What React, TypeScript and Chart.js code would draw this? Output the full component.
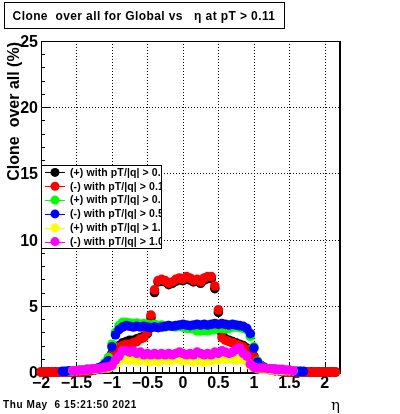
import React, { useEffect, useRef } from "react";
import { Chart, registerables } from "chart.js";

Chart.register(...registerables);

// eta bin centres
const ETA = [
  -2.0, -1.95, -1.9, -1.85, -1.8, -1.75, -1.7, -1.65, -1.6, -1.55,
  -1.5, -1.45, -1.4, -1.35, -1.3, -1.25, -1.2, -1.15, -1.1, -1.05,
  -1.0, -0.95, -0.9, -0.85, -0.8, -0.75, -0.7, -0.65, -0.6, -0.55,
  -0.5, -0.45, -0.4, -0.35, -0.3, -0.25, -0.2, -0.15, -0.1, -0.05,
  0.0, 0.05, 0.1, 0.15, 0.2, 0.25, 0.3, 0.35, 0.4, 0.45,
  0.5, 0.55, 0.6, 0.65, 0.7, 0.75, 0.8, 0.85, 0.9, 0.95,
  1.0, 1.05, 1.1, 1.15, 1.2, 1.25, 1.3, 1.35, 1.4, 1.45,
  1.5, 1.55, 1.6, 1.65, 1.7, 1.75, 1.8, 1.85, 1.9, 1.95,
  2.0, 2.05, 2.1, 2.15,
];

const N = null;

// (+) with pT/|q| > 0.1
const POS_PT01 = [
  0, 0, 0, 0, 0, 0, 0, 0, 0, 0,
  0, 0, 0, 0.05, 0.1, 0.15, 0.25, 0.35, 0.6, 1.0,
  1.4, 1.8, 2.0, 2.2, 2.3, 2.4, 2.4, 2.5, 2.6, 2.7,
  2.9, 4.1, 6.0, 6.8, 6.85, 6.8, 6.6, 6.7, 6.85, 6.95,
  6.9, 7.05, 6.95, 6.8, 6.9, 6.7, 6.95, 7.05, 7.05, 6.3,
  4.5, 2.9, 2.5, 2.4, 2.3, 2.2, 2.1, 2.0, 1.8, 1.5,
  1.2, 0.8, 0.5, 0.35, 0.25, 0.15, 0.1, 0.1, 0.05, 0,
  0, 0, 0, 0, 0, 0, 0, 0, 0, 0,
  0, 0, 0, 0,
];

// (-) with pT/|q| > 0.1
const NEG_PT01 = [
  0, 0, 0, 0, 0, 0, 0, 0, 0, 0,
  0, 0, 0, 0.05, 0.1, 0.15, 0.2, 0.3, 0.5, 0.9,
  1.3, 1.6, 1.9, 2.0, 2.1, 2.1, 2.2, 2.3, 2.5, 2.6,
  3.0, 4.3, 6.2, 6.9, 7.0, 6.9, 6.7, 6.8, 7.0, 7.1,
  7.0, 7.2, 7.1, 6.9, 7.0, 6.8, 7.1, 7.2, 7.2, 6.5,
  4.7, 2.6, 2.4, 2.3, 2.2, 2.1, 2.0, 1.9, 1.7, 1.4,
  1.15, 0.7, 0.45, 0.3, 0.2, 0.15, 0.1, 0.1, 0.05, 0,
  0, 0, 0, 0, 0, 0, 0, 0, 0, 0,
  0, 0, 0, 0,
];

// (+) with pT/|q| > 0.5
const POS_PT05 = [
  N, N, N, N, N, N, N, 0.05, 0.05, 0.1,
  0.1, 0.1, 0.15, 0.15, 0.2, 0.2, 0.25, 0.35, 0.7, 1.1,
  2.1, 3.0, 3.5, 3.75, 3.75, 3.7, 3.65, 3.7, 3.6, 3.65,
  3.6, 3.55, 3.6, 3.5, 3.55, 3.4, 3.5, 3.45, 3.4, 3.5,
  3.4, 3.3, 3.3, 3.25, 3.1, 3.1, 3.15, 3.1, 3.2, 3.2,
  3.3, 3.3, 3.25, 3.3, 3.4, 3.4, 3.35, 3.3, 3.2, 2.7,
  1.9, 0.8, 0.45, 0.3, 0.25, 0.2, 0.2, 0.15, 0.15, 0.1,
  0.1, 0.1, 0.05, 0.05, N, N, N, N, N, N,
  N, N, N, N,
];

// (-) with pT/|q| > 0.5
const NEG_PT05 = [
  N, N, N, N, N, N, 0.05, 0.05, 0.1, 0.1,
  0.1, 0.15, 0.15, 0.2, 0.2, 0.25, 0.3, 0.4, 0.6, 0.85,
  1.9, 2.8, 3.2, 3.4, 3.5, 3.45, 3.4, 3.45, 3.4, 3.45,
  3.4, 3.35, 3.4, 3.35, 3.4, 3.45, 3.5, 3.45, 3.5, 3.55,
  3.6, 3.55, 3.5, 3.55, 3.6, 3.55, 3.6, 3.55, 3.6, 3.65,
  3.6, 3.65, 3.6, 3.55, 3.6, 3.55, 3.5, 3.45, 3.3, 2.9,
  1.8, 0.75, 0.4, 0.3, 0.25, 0.2, 0.2, 0.15, 0.15, 0.1,
  0.1, 0.1, 0.05, 0.05, 0.05, N, N, N, N, N,
  N, N, N, N,
];

// (+) with pT/|q| > 1.0
const POS_PT10 = [
  N, N, N, N, N, N, N, N, N, 0.1,
  0.1, 0.15, 0.15, 0.2, 0.2, 0.2, 0.25, 0.25, 0.3, 0.3,
  0.4, 0.6, 0.8, 0.95, 1.0, 0.9, 1.0, 0.85, 0.9, 1.0,
  0.8, 0.85, 0.95, 0.8, 0.9, 1.0, 0.85, 0.9, 1.0, 0.95,
  0.85, 0.9, 1.0, 0.8, 0.9, 0.85, 0.75, 0.9, 0.85, 1.0,
  0.9, 1.0, 0.95, 1.05, 1.0, 0.9, 1.0, 0.95, 0.8, 0.5,
  0.35, 0.25, 0.2, 0.2, 0.2, 0.15, 0.15, 0.15, 0.1, 0.1,
  0.1, 0.1, N, N, N, N, N, N, N, N,
  N, N, N, N,
];

// (-) with pT/|q| > 1.0
const NEG_PT10 = [
  N, N, N, N, N, N, N, N, N, 0.1,
  0.1, 0.15, 0.15, 0.2, 0.2, 0.25, 0.25, 0.3, 0.35, 0.4,
  0.5, 0.9, 1.2, 1.6, 1.6, 1.5, 1.6, 1.4, 1.5, 1.3,
  1.4, 1.3, 1.4, 1.3, 1.4, 1.3, 1.4, 1.3, 1.4, 1.5,
  1.4, 1.3, 1.4, 1.3, 1.5, 1.4, 1.3, 1.4, 1.3, 1.5,
  1.4, 1.6, 1.5, 1.4, 1.5, 1.7, 1.8, 1.4, 1.2, 0.6,
  0.35, 0.3, 0.3, 0.3, 0.25, 0.25, 0.2, 0.2, 0.2, 0.15,
  0.15, 0.1, N, N, N, N, N, N, N, N,
  N, N, N, N,
];

const SERIES_VALUES = [POS_PT01, NEG_PT01, POS_PT05, NEG_PT05, POS_PT10, NEG_PT10];
const SERIES_LABELS = [
  "(+) with pT/|q| > 0.1",
  "(-) with pT/|q| > 0.1",
  "(+) with pT/|q| > 0.5",
  "(-) with pT/|q| > 0.5",
  "(+) with pT/|q| > 1.0",
  "(-) with pT/|q| > 1.0",
];
const SERIES_COLORS = ["#000000", "#ff0000", "#00ff00", "#0000ff", "#ffff00", "#ff00ff"];

const X_TICKS = [-2, -1.5, -1, -0.5, 0, 0.5, 1, 1.5, 2];
const X_TICK_LABELS = ["\u22122", "\u22121.5", "\u22121", "\u22120.5", "0", "0.5", "1", "1.5", "2"];
const Y_TICKS = [0, 5, 10, 15, 20, 25];
const Y_TICK_LABELS = ["0", "5", "10", "15", "20", "25"];

const TITLE = "Clone  over all for Global vs   \u03b7 at pT > 0.11";
const Y_TITLE = "Clone  over all (%)";
const X_TITLE = "\u03b7";
const DATE_TEXT = "Thu May  6 15:21:50 2021";

const FONT = "'Liberation Sans', Arial, sans-serif";

const rootStyle = {
  id: "rootStyle",
  beforeDatasetsDraw(chart: any) {
    const { ctx, chartArea, scales } = chart;
    const { left, right, top, bottom } = chartArea;
    const xs = scales.x;
    const ys = scales.y;
    ctx.save();
    // grid
    ctx.strokeStyle = "#000";
    ctx.lineWidth = 1;
    ctx.setLineDash([1, 2]);
    X_TICKS.forEach((v) => {
      const px = Math.round(xs.getPixelForValue(v)) + 0.5;
      if (px <= left + 1 || px >= right - 1) return;
      ctx.beginPath();
      ctx.moveTo(px, top);
      ctx.lineTo(px, bottom);
      ctx.stroke();
    });
    Y_TICKS.forEach((v) => {
      const py = Math.round(ys.getPixelForValue(v)) + 0.5;
      if (py <= top + 1 || py >= bottom - 1) return;
      ctx.beginPath();
      ctx.moveTo(left, py);
      ctx.lineTo(right, py);
      ctx.stroke();
    });
    ctx.setLineDash([]);
    // frame
    ctx.strokeRect(left + 0.5, top + 0.5, right - left, bottom - top);
    ctx.beginPath();
    ctx.moveTo(right + 1.5, top);
    ctx.lineTo(right + 1.5, bottom + 2);
    ctx.moveTo(left, bottom + 1.5);
    ctx.lineTo(right + 2, bottom + 1.5);
    ctx.stroke();
    // x ticks
    for (let i = -20; i <= 22; i++) {
      const v = i / 10;
      const px = Math.round(xs.getPixelForValue(v)) + 0.5;
      const len = i % 5 === 0 ? 10 : 5;
      ctx.beginPath();
      ctx.moveTo(px, bottom);
      ctx.lineTo(px, bottom - len);
      ctx.stroke();
    }
    // y ticks
    for (let i = 0; i <= 25; i++) {
      const py = Math.round(ys.getPixelForValue(i)) + 0.5;
      const len = i % 5 === 0 ? 9 : 4;
      ctx.beginPath();
      ctx.moveTo(left, py);
      ctx.lineTo(left + len, py);
      ctx.stroke();
    }
    // tick labels
    ctx.fillStyle = "#000";
    ctx.font = `bold 16px ${FONT}`;
    ctx.textAlign = "center";
    ctx.textBaseline = "alphabetic";
    X_TICKS.forEach((v, i) => {
      ctx.fillText(X_TICK_LABELS[i], xs.getPixelForValue(v), 388);
    });
    ctx.textAlign = "right";
    Y_TICKS.forEach((v, i) => {
      ctx.fillText(Y_TICK_LABELS[i], 38, ys.getPixelForValue(v) + 6);
    });
    ctx.restore();
  },
  afterDraw(chart: any) {
    const { ctx, chartArea } = chart;
    const { left } = chartArea;
    ctx.save();
    // legend
    const bx = left + 0.5, by = 165.5, bw = 120, bh = 83;
    ctx.fillStyle = "#fff";
    ctx.fillRect(bx, by, bw, bh);
    ctx.strokeStyle = "#000";
    ctx.lineWidth = 1;
    ctx.strokeRect(bx, by, bw, bh);
    ctx.save();
    ctx.beginPath();
    ctx.rect(bx, by, bw, bh);
    ctx.clip();
    const rowH = bh / SERIES_LABELS.length;
    SERIES_LABELS.forEach((label, i) => {
      const cy = by + rowH * (i + 0.5);
      ctx.strokeStyle = SERIES_COLORS[i];
      ctx.beginPath();
      ctx.moveTo(45, Math.round(cy) + 0.5);
      ctx.lineTo(65, Math.round(cy) + 0.5);
      ctx.stroke();
      ctx.fillStyle = SERIES_COLORS[i];
      ctx.beginPath();
      ctx.arc(55, cy, 4.5, 0, Math.PI * 2);
      ctx.fill();
      ctx.fillStyle = "#000";
      ctx.font = `bold 10.5px ${FONT}`;
      ctx.textAlign = "left";
      ctx.textBaseline = "middle";
      (ctx as any).letterSpacing = "0.1px";
      ctx.fillText(label, 70, cy + 0.5);
    });
    ctx.restore();
    (ctx as any).letterSpacing = "0px";
    // title box
    ctx.fillStyle = "#fff";
    ctx.fillRect(4.5, 2.5, 280, 26);
    ctx.strokeStyle = "#000";
    ctx.strokeRect(4.5, 2.5, 280, 26);
    ctx.fillStyle = "#000";
    ctx.font = `bold 12px ${FONT}`;
    ctx.textAlign = "center";
    ctx.textBaseline = "middle";
    (ctx as any).letterSpacing = "0.4px";
    ctx.fillText(TITLE, 144, 16.5);
    (ctx as any).letterSpacing = "0px";
    // y title
    ctx.save();
    ctx.translate(15, 42);
    ctx.rotate(-Math.PI / 2);
    ctx.font = `bold 16px ${FONT}`;
    ctx.textAlign = "right";
    ctx.textBaseline = "middle";
    ctx.fillText(Y_TITLE, 0, 0);
    ctx.restore();
    // x title
    ctx.font = `15px 'DejaVu Serif', serif`;
    ctx.textAlign = "left";
    ctx.textBaseline = "alphabetic";
    ctx.fillText(X_TITLE, 331, 410);
    // date
    ctx.font = `bold 10px ${FONT}`;
    (ctx as any).letterSpacing = "0.6px";
    ctx.fillText(DATE_TEXT, 3, 408);
    (ctx as any).letterSpacing = "0px";
    ctx.restore();
  },
};

export default function App() {
  const canvasRef = useRef<HTMLCanvasElement | null>(null);

  useEffect(() => {
    const canvas = canvasRef.current;
    if (!canvas) return;
    const datasets = SERIES_VALUES.map((vals, si) => ({
      label: SERIES_LABELS[si],
      data: ETA.map((x, i) => ({ x, y: vals[i] })).filter((p) => p.y !== null),
      backgroundColor: SERIES_COLORS[si],
      borderColor: SERIES_COLORS[si],
      pointRadius: 4.8,
      pointBorderWidth: 0,
      showLine: false,
      clip: false as any,
      order: SERIES_VALUES.length - si,
    }));
    const chart = new Chart(canvas, {
      type: "scatter",
      data: { datasets },
      options: {
        responsive: false,
        animation: false,
        events: [],
        layout: { padding: { left: 41, right: 61, top: 41, bottom: 42 } },
        scales: {
          x: { type: "linear", min: -2, max: 2.2, display: false },
          y: { type: "linear", min: 0, max: 25, display: false },
        },
        plugins: { legend: { display: false }, tooltip: { enabled: false } },
      },
      plugins: [rootStyle],
    });
    return () => chart.destroy();
  }, []);

  return (
    <div style={{ position: "fixed", left: 0, top: 0, width: 400, height: 414, background: "#fff" }}>
      <canvas ref={canvasRef} width={400} height={414} style={{ display: "block" }} />
    </div>
  );
}
